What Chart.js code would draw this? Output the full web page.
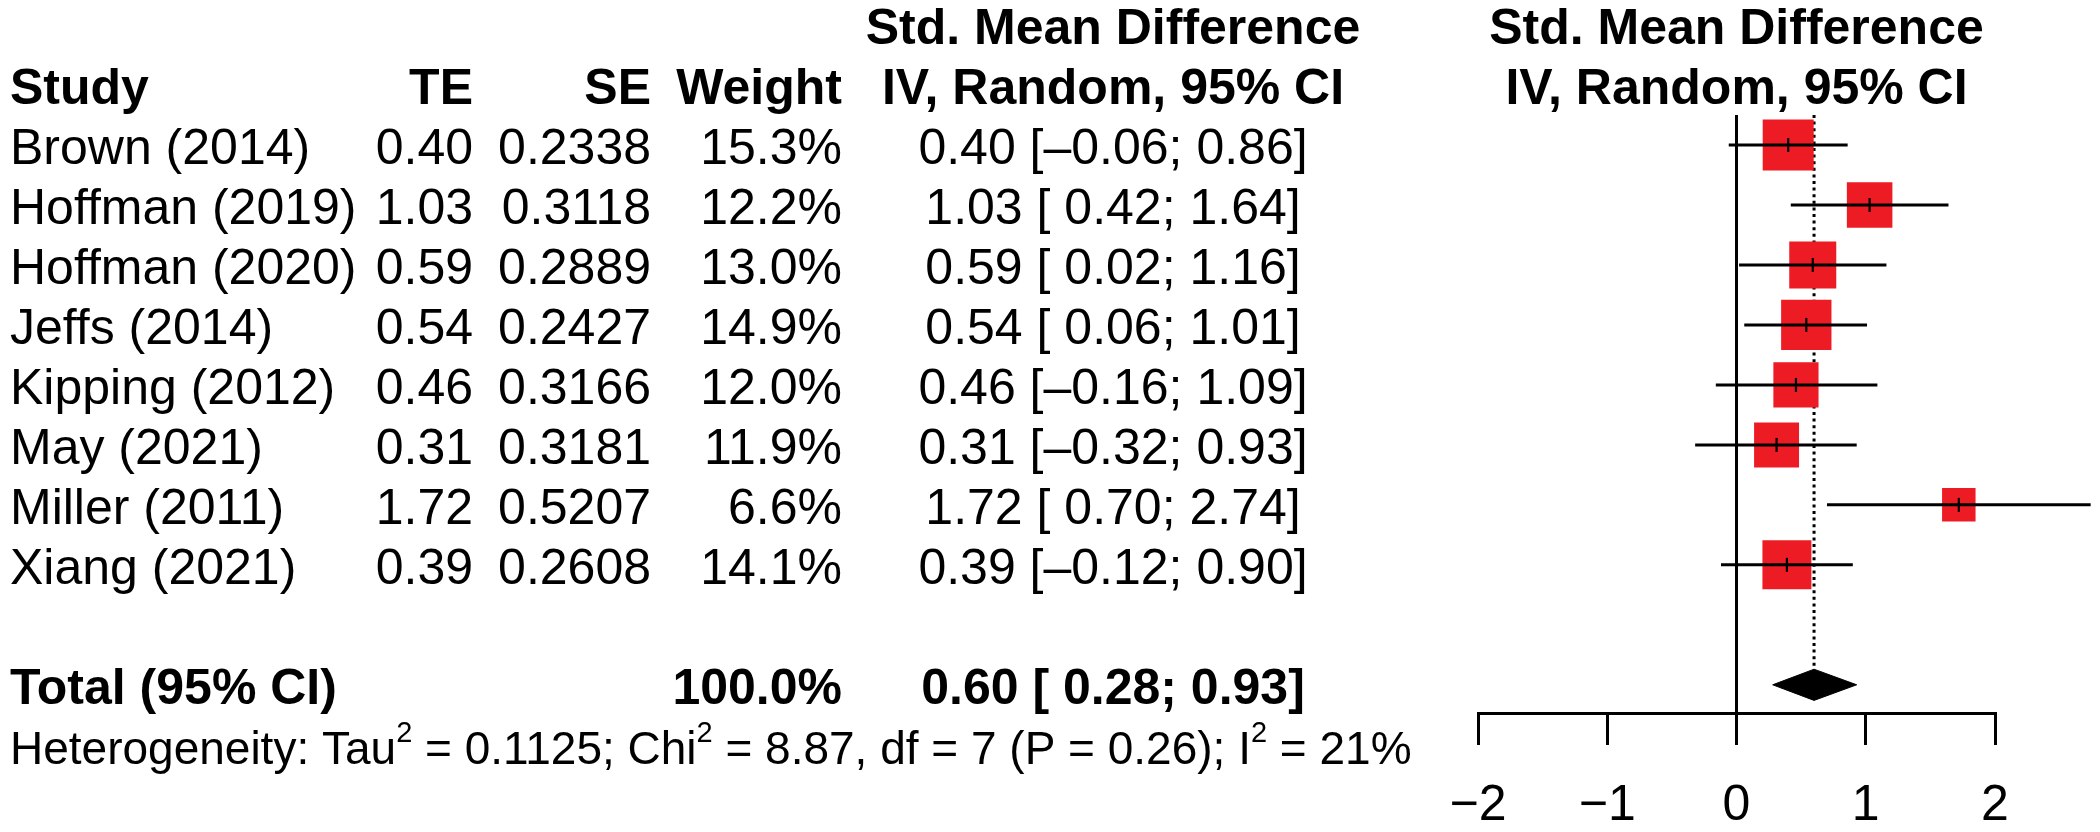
<!DOCTYPE html>
<html>
<head>
<meta charset="utf-8">
<title>Forest plot</title>
<script src="https://cdn.jsdelivr.net/npm/chart.js@4.4.1/dist/chart.umd.min.js"></script>
<style>
  html, body { margin: 0; padding: 0; background: #fff; }
  canvas { display: block; }
</style>
</head>
<body>
<canvas id="forestChart" width="2100" height="832"></canvas>
<script>
const studies = ['Brown (2014)', 'Hoffman (2019)', 'Hoffman (2020)', 'Jeffs (2014)',
    'Kipping (2012)', 'May (2021)', 'Miller (2011)', 'Xiang (2021)'];
const te = [0.40, 1.03, 0.59, 0.54, 0.46, 0.31, 1.72, 0.39];
const se = [0.2338, 0.3118, 0.2889, 0.2427, 0.3166, 0.3181, 0.5207, 0.2608];
const weights = [15.3, 12.2, 13.0, 14.9, 12.0, 11.9, 6.6, 14.1];
const ciLower = [-0.06, 0.42, 0.02, 0.06, -0.16, -0.32, 0.70, -0.12];
const ciUpper = [0.86, 1.64, 1.16, 1.01, 1.09, 0.93, 2.74, 0.90];
const pooled = [0.60, 0.28, 0.93]; // estimate, lower, upper
const tickValues = [-2, -1, 0, 1, 2];
const tickLabels = ['−2', '−1', '0', '1', '2'];
const heterogeneity = [
    ['Heterogeneity: Tau', false], ['2', true], [' = 0.1125; Chi', false], ['2', true],
    [' = 8.87, df = 7 (P = 0.26); I', false], ['2', true], [' = 21%', false]
];

const FONT = '"Liberation Sans", Arial, Helvetica, sans-serif';
const totalRow = studies.length + 1;
const maxWeight = Math.max(...weights);
const diamondHalf = 0.26;

function boxSide(w) {
    return 51 * Math.sqrt(w / maxWeight);
}
function fmt(v) {
    return v < 0 ? '–' + Math.abs(v).toFixed(2) : v.toFixed(2);
}
function fmtCI(est, lo, hi) {
    const l = lo < 0 ? fmt(lo) : ' ' + fmt(lo);
    return fmt(est) + ' [' + l + '; ' + fmt(hi) + ']';
}

// CI whiskers, one line per study
const ciDatasets = studies.map((s, i) => ({
    type: 'line',
    data: [{ x: ciLower[i], y: i }, { x: ciUpper[i], y: i }],
    borderColor: '#000',
    borderWidth: 3,
    pointRadius: 0,
    clip: false,
    order: 3
}));

const tablePlugin = {
    id: 'tableText',
    afterDraw(chart) {
        const ctx = chart.ctx;
        const yScale = chart.scales.y;
        const area = chart.chartArea;
        const rowY = r => yScale.getPixelForValue(r) + 19;
        const plotMid = (area.left + area.right) / 2;
        const colTE = 473, colSE = 651, colW = 842, colCI = 1113, colStudy = 10;

        function text(str, x, y, align, bold) {
            ctx.font = (bold ? 'bold ' : '') + '50px ' + FONT;
            ctx.textAlign = align;
            ctx.fillText(str, x, y);
        }

        ctx.save();
        ctx.fillStyle = '#000';
        ctx.textBaseline = 'alphabetic';

        // headers
        text('Std. Mean Difference', colCI, rowY(-2), 'center', true);
        text('Std. Mean Difference', plotMid, rowY(-2), 'center', true);
        text('Study', colStudy, rowY(-1), 'left', true);
        text('TE', colTE, rowY(-1), 'right', true);
        text('SE', colSE, rowY(-1), 'right', true);
        text('Weight', colW, rowY(-1), 'right', true);
        text('IV, Random, 95% CI', colCI, rowY(-1), 'center', true);
        text('IV, Random, 95% CI', plotMid, rowY(-1), 'center', true);

        studies.forEach((s, i) => {
            const y = rowY(i);
            text(s, colStudy, y, 'left', false);
            text(te[i].toFixed(2), colTE, y, 'right', false);
            text(se[i].toFixed(4), colSE, y, 'right', false);
            text(weights[i].toFixed(1) + '%', colW, y, 'right', false);
            text(fmtCI(te[i], ciLower[i], ciUpper[i]), colCI, y, 'center', false);
        });

        const totalW = weights.reduce((a, b) => a + b, 0);
        text('Total (95% CI)', colStudy, rowY(totalRow), 'left', true);
        text(totalW.toFixed(1) + '%', colW, rowY(totalRow), 'right', true);
        text(fmtCI(pooled[0], pooled[1], pooled[2]), colCI, rowY(totalRow), 'center', true);

        // heterogeneity line with superscripts
        let x = colStudy;
        const hy = rowY(totalRow + 1);
        ctx.textAlign = 'left';
        heterogeneity.forEach(([str, sup]) => {
            ctx.font = (sup ? '29px ' : '46px ') + FONT;
            ctx.fillText(str, x, sup ? hy - 22 : hy);
            x += ctx.measureText(str).width;
        });
        ctx.restore();
    }
};

const ctx = document.getElementById('forestChart').getContext('2d');
const forestChart = new Chart(ctx, {
    type: 'scatter',
    data: {
        datasets: [
            {
                // pooled diamond
                type: 'line',
                data: [
                    { x: pooled[1], y: totalRow },
                    { x: pooled[0], y: totalRow - diamondHalf },
                    { x: pooled[2], y: totalRow },
                    { x: pooled[0], y: totalRow + diamondHalf },
                    { x: pooled[1], y: totalRow }
                ],
                fill: 'shape',
                backgroundColor: '#000',
                borderColor: '#000',
                borderWidth: 1,
                pointRadius: 0,
                tension: 0,
                clip: false,
                order: 1
            },
            {
                // centre marks inside boxes
                type: 'scatter',
                data: te.map((v, i) => ({ x: v, y: i })),
                pointStyle: 'line',
                pointRotation: 90,
                pointRadius: 7,
                pointBorderColor: '#000',
                pointBorderWidth: 2.2,
                clip: false,
                order: 2
            },
            ...ciDatasets,
            {
                // study boxes
                type: 'scatter',
                data: te.map((v, i) => ({ x: v, y: i })),
                pointStyle: 'rect',
                pointRadius: c => boxSide(weights[c.dataIndex]) / Math.SQRT2,
                pointBackgroundColor: '#ED1C24',
                pointBorderWidth: 0,
                clip: false,
                order: 4
            },
            {
                // line of no effect
                type: 'line',
                data: [{ x: 0, y: -0.5 }, { x: 0, y: 9.47 }],
                borderColor: '#000',
                borderWidth: 3,
                pointRadius: 0,
                clip: false,
                order: 5
            },
            {
                // pooled estimate reference
                type: 'line',
                data: [{ x: pooled[0], y: -0.5 }, { x: pooled[0], y: totalRow - diamondHalf }],
                borderColor: '#000',
                borderWidth: 3,
                borderDash: [3, 3.6],
                pointRadius: 0,
                clip: false,
                order: 5
            }
        ]
    },
    options: {
        responsive: false,
        devicePixelRatio: 1,
        animation: false,
        events: [],
        layout: { padding: { left: 1478, right: 105, top: 115, bottom: 0 } },
        plugins: {
            legend: { display: false },
            tooltip: { enabled: false }
        },
        scales: {
            x: {
                type: 'linear',
                min: -2,
                max: 2,
                afterBuildTicks: scale => {
                    scale.ticks = tickValues.map(v => ({ value: v }));
                },
                afterFit: scale => { scale.height = 119; },
                ticks: {
                    color: '#000',
                    font: { family: FONT, size: 50 },
                    padding: 31,
                    maxRotation: 0,
                    callback: (v) => tickLabels[tickValues.indexOf(v)]
                },
                grid: {
                    drawOnChartArea: false,
                    drawTicks: true,
                    tickLength: 32,
                    tickWidth: 3,
                    tickColor: '#000',
                    color: '#000',
                    lineWidth: 3
                },
                border: { display: true, color: '#000', width: 3 }
            },
            y: {
                type: 'linear',
                display: false,
                reverse: true,
                min: -0.5,
                max: 9.47
            }
        }
    },
    plugins: [tablePlugin]
});
</script>
</body>
</html>
